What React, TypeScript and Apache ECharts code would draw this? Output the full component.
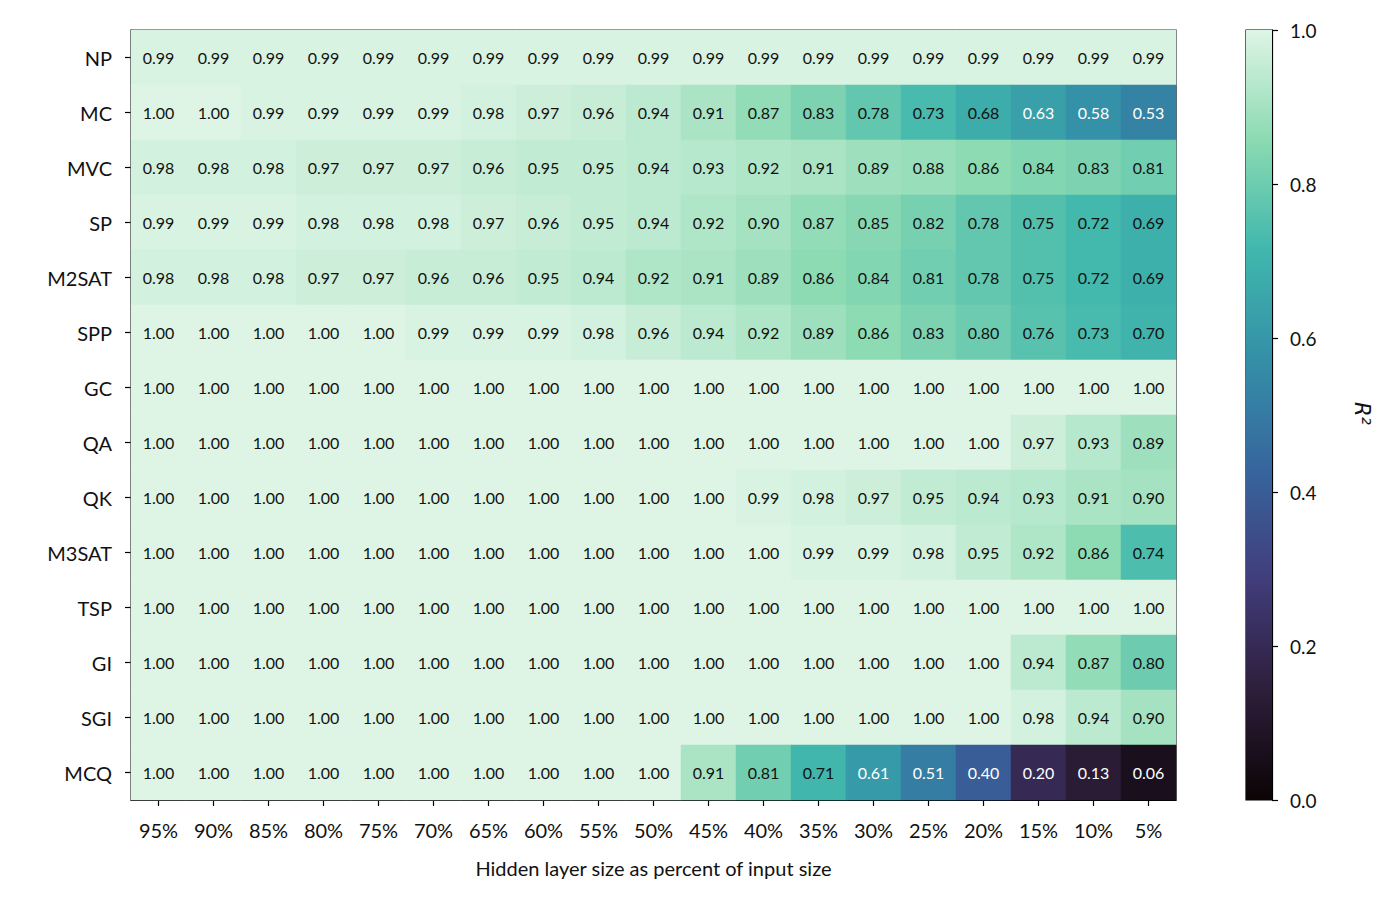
import { useEffect, useRef } from "react"
import * as echarts from "echarts"

const FONT = "Lato, 'Open Sans', sans-serif"

// hidden layer sizes (x) and problems (y, top to bottom)
const columns = ["95%", "90%", "85%", "80%", "75%", "70%", "65%", "60%", "55%", "50%", "45%", "40%", "35%", "30%", "25%", "20%", "15%", "10%", "5%"]
const problems = ["NP", "MC", "MVC", "SP", "M2SAT", "SPP", "GC", "QA", "QK", "M3SAT", "TSP", "GI", "SGI", "MCQ"]

const npRow = [0.99, 0.99, 0.99, 0.99, 0.99, 0.99, 0.99, 0.99, 0.99, 0.99, 0.99, 0.99, 0.99, 0.99, 0.99, 0.99, 0.99, 0.99, 0.99]
const mcRow = [1.0, 1.0, 0.99, 0.99, 0.99, 0.99, 0.98, 0.97, 0.96, 0.94, 0.91, 0.87, 0.83, 0.78, 0.73, 0.68, 0.63, 0.58, 0.53]
const mvcRow = [0.98, 0.98, 0.98, 0.97, 0.97, 0.97, 0.96, 0.95, 0.95, 0.94, 0.93, 0.92, 0.91, 0.89, 0.88, 0.86, 0.84, 0.83, 0.81]
const spRow = [0.99, 0.99, 0.99, 0.98, 0.98, 0.98, 0.97, 0.96, 0.95, 0.94, 0.92, 0.9, 0.87, 0.85, 0.82, 0.78, 0.75, 0.72, 0.69]
const m2satRow = [0.98, 0.98, 0.98, 0.97, 0.97, 0.96, 0.96, 0.95, 0.94, 0.92, 0.91, 0.89, 0.86, 0.84, 0.81, 0.78, 0.75, 0.72, 0.69]
const sppRow = [1.0, 1.0, 1.0, 1.0, 1.0, 0.99, 0.99, 0.99, 0.98, 0.96, 0.94, 0.92, 0.89, 0.86, 0.83, 0.8, 0.76, 0.73, 0.7]
const gcRow = [1.0, 1.0, 1.0, 1.0, 1.0, 1.0, 1.0, 1.0, 1.0, 1.0, 1.0, 1.0, 1.0, 1.0, 1.0, 1.0, 1.0, 1.0, 1.0]
const qaRow = [1.0, 1.0, 1.0, 1.0, 1.0, 1.0, 1.0, 1.0, 1.0, 1.0, 1.0, 1.0, 1.0, 1.0, 1.0, 1.0, 0.97, 0.93, 0.89]
const qkRow = [1.0, 1.0, 1.0, 1.0, 1.0, 1.0, 1.0, 1.0, 1.0, 1.0, 1.0, 0.99, 0.98, 0.97, 0.95, 0.94, 0.93, 0.91, 0.9]
const m3satRow = [1.0, 1.0, 1.0, 1.0, 1.0, 1.0, 1.0, 1.0, 1.0, 1.0, 1.0, 1.0, 0.99, 0.99, 0.98, 0.95, 0.92, 0.86, 0.74]
const tspRow = [1.0, 1.0, 1.0, 1.0, 1.0, 1.0, 1.0, 1.0, 1.0, 1.0, 1.0, 1.0, 1.0, 1.0, 1.0, 1.0, 1.0, 1.0, 1.0]
const giRow = [1.0, 1.0, 1.0, 1.0, 1.0, 1.0, 1.0, 1.0, 1.0, 1.0, 1.0, 1.0, 1.0, 1.0, 1.0, 1.0, 0.94, 0.87, 0.8]
const sgiRow = [1.0, 1.0, 1.0, 1.0, 1.0, 1.0, 1.0, 1.0, 1.0, 1.0, 1.0, 1.0, 1.0, 1.0, 1.0, 1.0, 0.98, 0.94, 0.9]
const mcqRow = [1.0, 1.0, 1.0, 1.0, 1.0, 1.0, 1.0, 1.0, 1.0, 1.0, 0.91, 0.81, 0.71, 0.61, 0.51, 0.4, 0.2, 0.13, 0.06]

const rows = [npRow, mcRow, mvcRow, spRow, m2satRow, sppRow, gcRow, qaRow, qkRow, m3satRow, tspRow, giRow, sgiRow, mcqRow]

// mako, dark -> light, evenly spaced
const mako = ["#0B0405", "#2E1E3B", "#413D7B", "#37659E", "#348FA7", "#40B7AD", "#8BDAB2", "#DEF5E5"]

export default function App() {
  const hostRef = useRef<HTMLDivElement>(null)

  useEffect(() => {
    document.body.style.margin = "0"
    const el = hostRef.current
    if (!el) return
    const chart = echarts.init(el, undefined, { renderer: "svg" })

    const data: any[] = []
    rows.forEach((row, y) =>
      row.forEach((v, x) => {
        data.push({
          value: [x, y, v],
          label: { color: v < 0.655 ? "#ffffff" : "#111111" },
        })
      }),
    )

    const axisBlack = { show: true, lineStyle: { color: "#000", width: 1.2 } }
    const tickBlack = { show: true, length: 6, lineStyle: { color: "#000", width: 1.2 } }

    chart.setOption({
      animation: false,
      textStyle: { fontFamily: FONT },
      grid: [
        { left: 131, top: 30, width: 1045, height: 770, show: true, borderColor: "#000", borderWidth: 1.2 },
        { left: 1246, top: 30, width: 26, height: 770, show: true, borderColor: "#000", borderWidth: 1.2 },
      ],
      xAxis: [
        {
          type: "category",
          gridIndex: 0,
          data: columns,
          axisLine: axisBlack,
          axisTick: { ...tickBlack, alignWithLabel: true },
          axisLabel: { color: "#111", fontSize: 20, margin: 20, interval: 0 },
          splitLine: { show: false },
          name: "Hidden layer size as percent of input size",
          nameLocation: "middle",
          nameGap: 58,
          nameTextStyle: { color: "#111", fontSize: 20 },
        },
        { type: "category", gridIndex: 1, data: ["R2"], show: false },
      ],
      yAxis: [
        {
          type: "category",
          gridIndex: 0,
          data: problems,
          inverse: true,
          axisLine: axisBlack,
          axisTick: { ...tickBlack, alignWithLabel: true },
          axisLabel: { color: "#111", fontSize: 20, margin: 19, interval: 0 },
          splitLine: { show: false },
        },
        {
          type: "value",
          gridIndex: 1,
          min: 0,
          max: 1,
          interval: 0.2,
          position: "right",
          axisLine: axisBlack,
          axisTick: tickBlack,
          axisLabel: {
            color: "#111",
            fontSize: 19,
            margin: 18,
            formatter: (v: number) => v.toFixed(1),
          },
          splitLine: { show: false },
        },
      ],
      visualMap: {
        show: false,
        type: "continuous",
        min: 0,
        max: 1,
        seriesIndex: 0,
        dimension: 2,
        inRange: { color: mako },
      },
      series: [
        {
          type: "heatmap",
          xAxisIndex: 0,
          yAxisIndex: 0,
          data,
          label: {
            show: true,
            fontSize: 16,
            formatter: (p: any) => p.value[2].toFixed(2),
          },
          emphasis: { disabled: true },
        },
        {
          type: "bar",
          xAxisIndex: 1,
          yAxisIndex: 1,
          data: [1],
          barWidth: "100%",
          silent: true,
          itemStyle: {
            color: new echarts.graphic.LinearGradient(
              0,
              0,
              0,
              1,
              mako.map((_, i) => ({ offset: i / (mako.length - 1), color: mako[mako.length - 1 - i] })),
            ),
          },
        },
      ],
      graphic: [
        {
          type: "text",
          x: 1372,
          y: 402,
          rotation: -Math.PI / 2,
          style: {
            text: "R²",
            fontFamily: "'DejaVu Sans', sans-serif",
            fontStyle: "italic",
            fontSize: 21,
            fill: "#111",
          },
        },
      ],
    })

    return () => chart.dispose()
  }, [])

  return <div ref={hostRef} style={{ width: 1391, height: 905 }} />
}
